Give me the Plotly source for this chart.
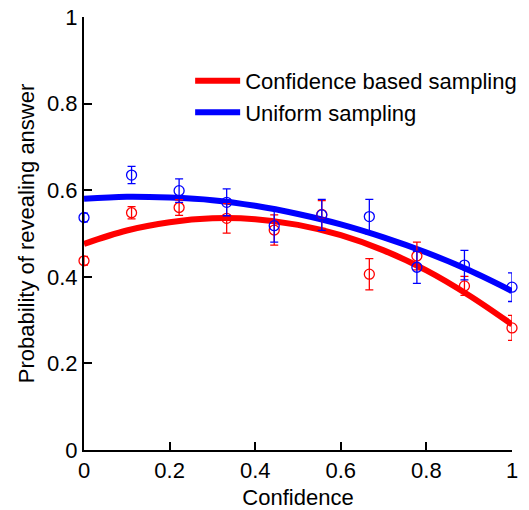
import plotly.graph_objects as go

conf_x = [0, 1/9, 2/9, 3/9, 4/9, 5/9, 6/9, 7/9, 8/9, 1]
red_y = [0.437, 0.548, 0.560, 0.535, 0.508, 0.544, 0.406, 0.448, 0.379, 0.282]
red_err = [0.010, 0.014, 0.018, 0.034, 0.035, 0.032, 0.036, 0.032, 0.022, 0.029]
blue_y = [0.537, 0.635, 0.599, 0.572, 0.518, 0.543, 0.539, 0.422, 0.427, 0.376]
blue_err = [0.010, 0.020, 0.027, 0.031, 0.038, 0.036, 0.040, 0.037, 0.034, 0.033]

fit_x = [0, 0.1, 0.2, 0.3, 0.4, 0.5, 0.6, 0.7, 0.8, 0.9, 1.0]
red_fit = [0.476, 0.507, 0.526, 0.535, 0.533, 0.520, 0.496, 0.461, 0.415, 0.357, 0.290]
blue_fit = [0.580, 0.585, 0.583, 0.577, 0.564, 0.545, 0.521, 0.491, 0.456, 0.415, 0.367]

tick_vals = [0, 0.2, 0.4, 0.6, 0.8, 1]
tick_text = ["0", "0.2", "0.4", "0.6", "0.8", "1"]

RED = "#ff0000"
BLUE = "#0000ff"

fig = go.Figure()
fig.add_trace(go.Scatter(x=fit_x, y=red_fit, mode="lines", line=dict(color=RED, width=6, shape="spline"),
                         name="Confidence based sampling"))
fig.add_trace(go.Scatter(x=fit_x, y=blue_fit, mode="lines", line=dict(color=BLUE, width=6, shape="spline"),
                         name="Uniform sampling"))
fig.add_trace(go.Scatter(x=conf_x, y=red_y, mode="markers", showlegend=False,
                         marker=dict(symbol="circle-open", size=10, color=RED, line=dict(width=1.3)),
                         error_y=dict(type="data", array=red_err, color=RED, thickness=1.3, width=4),
                         cliponaxis=False))
fig.add_trace(go.Scatter(x=conf_x, y=blue_y, mode="markers", showlegend=False,
                         marker=dict(symbol="circle-open", size=10, color=BLUE, line=dict(width=1.3)),
                         error_y=dict(type="data", array=blue_err, color=BLUE, thickness=1.3, width=4),
                         cliponaxis=False))

axis_common = dict(showline=True, linecolor="black", linewidth=2, ticks="inside", ticklen=8,
                   tickwidth=2, tickcolor="black", showgrid=False, zeroline=False, mirror=False,
                   automargin=False, ticklabeloverflow="allow", tickfont=dict(size=22, color="black"))
fig.update_layout(
    width=529, height=510,
    margin=dict(l=84, r=17, t=17, b=60, autoexpand=False),
    paper_bgcolor="white", plot_bgcolor="white",
    font=dict(family="Liberation Sans, Arial, sans-serif", color="black"),
    xaxis=dict(range=[0, 1], tickvals=tick_vals, ticktext=tick_text,
               title=dict(text="Confidence", font=dict(size=22), standoff=8), **axis_common),
    yaxis=dict(range=[0, 1], tickvals=tick_vals, ticktext=tick_text,
               title=dict(text="Probability of revealing answer", font=dict(size=22), standoff=6), **axis_common),
    legend=dict(x=0.248, y=0.901, xanchor="left", yanchor="top", font=dict(size=22, color="black"),
                bgcolor="rgba(0,0,0,0)", itemwidth=45, tracegroupgap=0),
)
fig.write_html("out.html", config={"displayModeBar": False},
               post_script="document.body.style.margin='0';")
